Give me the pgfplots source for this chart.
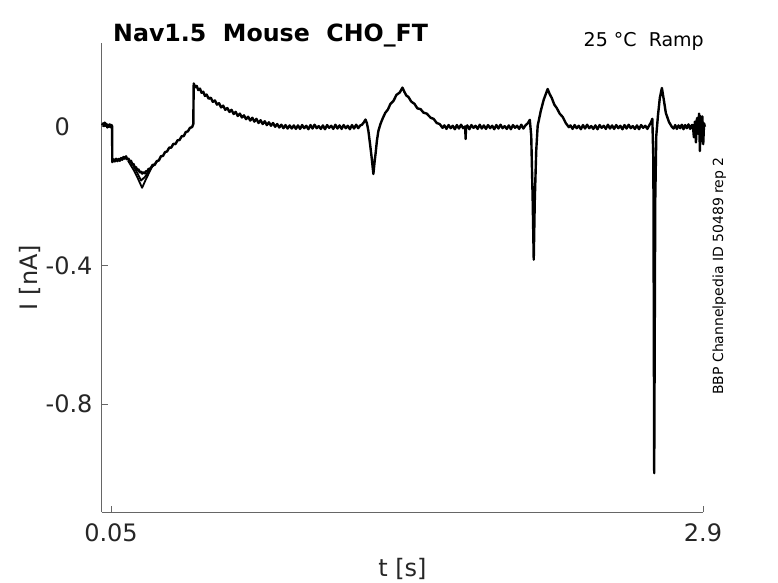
\documentclass[border=0pt]{standalone}
\usepackage{pgfplots}
\pgfplotsset{compat=1.18}
\usepackage{fontspec}
\setmainfont{DejaVu Sans}
\definecolor{axgray}{rgb}{0.40,0.40,0.40}
\definecolor{labgray}{rgb}{0.15,0.15,0.15}
\begin{document}
\begin{tikzpicture}[x=1bp,y=1bp]
\path[use as bounding box] (0,0) rectangle (778,-583);
\begin{axis}[
  at={(101.7bp,-512bp)}, anchor=south west,
  width=601.3bp, height=469bp, scale only axis,
  xmin=0.005, xmax=2.9, ymin=-1.111, ymax=0.2417,
  axis x line*=bottom, axis y line*=left,
  axis line style={axgray, line width=0.8bp},
  clip=false,
  xtick={0.05,2.9}, xticklabels={0.05,2.9},
  ytick={-0.8,-0.4,0}, yticklabels={-0.8,-0.4,{0\hspace*{22.7bp}}},
  tick align=inside, major tick length=6bp,
  tick style={axgray, line width=0.7bp},
  ticklabel style={font=\fontsize{24bp}{28bp}\selectfont, text=labgray, inner sep=0pt},
  xticklabel style={anchor=north, yshift=-11bp},
  yticklabel style={anchor=east, xshift=-9bp},
]
\addplot[black, line width=2.4bp, line join=round] coordinates {
(0.007,0.004)(0.012,0.010)(0.016,0.002)(0.020,0.012)(0.024,0.003)(0.028,0.008)
(0.032,-0.002)(0.036,0.006)(0.040,0.000)(0.044,0.007)(0.048,-0.001)(0.052,0.005)(0.055,0.002)
(0.056,-0.102)(0.062,-0.094)(0.068,-0.100)(0.074,-0.092)(0.080,-0.099)(0.086,-0.093)
(0.092,-0.098)(0.098,-0.090)(0.104,-0.095)(0.110,-0.087)(0.116,-0.092)(0.122,-0.085)
(0.128,-0.094)(0.134,-0.092)(0.140,-0.101)(0.146,-0.098)(0.152,-0.108)(0.158,-0.107)
(0.164,-0.117)(0.170,-0.116)(0.176,-0.125)(0.182,-0.123)(0.188,-0.131)(0.194,-0.129)
(0.200,-0.135)(0.206,-0.131)(0.212,-0.134)(0.218,-0.128)(0.224,-0.129)
(0.230,-0.122)(0.240,-0.120)(0.250,-0.110)(0.260,-0.110)(0.270,-0.099)(0.280,-0.097)
(0.290,-0.085)(0.300,-0.084)(0.310,-0.073)(0.320,-0.071)(0.330,-0.060)(0.340,-0.060)
(0.350,-0.049)(0.360,-0.050)(0.370,-0.039)(0.380,-0.038)(0.390,-0.027)(0.400,-0.027)
(0.410,-0.015)(0.420,-0.013)(0.430,-0.003)(0.440,-0.001)(0.446,0.008)
(0.448,0.125)
(0.455,0.114)(0.462,0.118)(0.470,0.106)(0.478,0.110)(0.486,0.098)(0.494,0.101)
(0.502,0.089)(0.510,0.093)(0.520,0.081)(0.530,0.084)(0.540,0.072)(0.550,0.076)
(0.560,0.064)(0.570,0.068)(0.580,0.056)(0.590,0.061)(0.600,0.049)(0.610,0.054)
(0.620,0.043)(0.630,0.049)(0.640,0.037)(0.650,0.043)(0.660,0.031)(0.670,0.038)
(0.680,0.027)(0.690,0.033)(0.700,0.022)(0.710,0.029)(0.720,0.018)(0.730,0.026)
(0.740,0.015)(0.750,0.023)(0.760,0.011)(0.770,0.019)(0.780,0.008)(0.790,0.016)
(0.800,0.005)(0.810,0.013)(0.820,0.003)(0.830,0.011)(0.840,0.000)(0.850,0.008)
(0.860,-0.002)(0.870,0.006)(0.880,-0.004)(0.890,0.005)(0.900,-0.005)(0.910,0.004)
(0.920,-0.005)(0.930,0.004)(0.940,-0.006)
(0.950,0.004)(0.960,-0.006)(0.970,0.005)(0.980,-0.004)(0.990,0.003)(1.000,-0.007)
(1.010,0.005)(1.020,-0.005)(1.030,0.006)(1.040,-0.004)(1.050,0.002)(1.060,-0.006)
(1.070,0.004)(1.080,-0.007)(1.090,0.005)(1.100,-0.003)(1.110,0.003)(1.120,-0.006)
(1.130,0.006)(1.140,-0.005)(1.150,0.004)(1.160,-0.006)(1.170,0.005)(1.180,-0.004)
(1.190,0.003)(1.200,-0.007)(1.210,0.005)(1.220,-0.005)(1.230,0.006)(1.240,-0.004)(1.250,0.004)
(1.258,0.006)(1.266,0.012)(1.275,0.021)(1.282,0.010)(1.289,-0.012)(1.297,-0.050)
(1.304,-0.085)(1.313,-0.136)(1.319,-0.100)(1.324,-0.075)(1.330,-0.040)(1.337,-0.012)
(1.347,0.008)(1.357,0.023)(1.370,0.040)(1.383,0.050)(1.395,0.066)(1.410,0.075)
(1.424,0.092)(1.440,0.099)(1.453,0.113)(1.462,0.101)(1.472,0.090)(1.482,0.086)
(1.495,0.073)(1.511,0.066)(1.525,0.053)(1.540,0.051)(1.554,0.041)(1.570,0.038)
(1.589,0.026)(1.603,0.023)(1.618,0.011)(1.632,0.008)(1.646,-0.003)
(1.655,0.004)(1.665,-0.006)(1.675,0.005)(1.685,-0.004)(1.695,0.003)(1.705,-0.007)
(1.715,0.005)(1.725,-0.005)(1.735,0.006)(1.745,-0.004)(1.755,0.001)(1.757,-0.035)
(1.759,-0.002)(1.765,0.004)(1.775,-0.007)(1.785,0.005)(1.795,-0.003)(1.805,0.003)
(1.815,-0.006)(1.825,0.006)(1.835,-0.005)(1.845,0.004)(1.855,-0.006)(1.865,0.005)
(1.875,-0.004)(1.885,0.003)(1.895,-0.007)(1.905,0.005)(1.915,-0.005)(1.925,0.006)
(1.935,-0.004)(1.945,0.002)(1.955,-0.006)(1.965,0.004)(1.975,-0.007)(1.985,0.005)
(1.995,-0.003)(2.005,0.003)(2.015,-0.006)(2.025,0.006)(2.035,-0.005)(2.045,0.004)
(2.056,0.010)(2.066,0.020)(2.073,-0.026)(2.080,-0.213)(2.085,-0.383)(2.090,-0.213)
(2.097,-0.069)(2.104,0.003)(2.119,0.046)(2.133,0.078)(2.152,0.109)(2.162,0.094)
(2.172,0.083)(2.184,0.064)(2.196,0.054)(2.210,0.038)(2.225,0.028)(2.240,0.010)(2.254,-0.001)
(2.262,0.004)(2.272,-0.006)(2.282,0.005)(2.292,-0.004)(2.302,0.003)(2.312,-0.007)
(2.322,0.005)(2.332,-0.005)(2.342,0.006)(2.352,-0.004)(2.362,0.002)(2.372,-0.006)
(2.382,0.004)(2.392,-0.007)(2.402,0.005)(2.412,-0.003)(2.422,0.003)(2.432,-0.006)
(2.442,0.006)(2.452,-0.005)(2.462,0.004)(2.472,-0.006)(2.482,0.005)(2.492,-0.004)
(2.502,0.003)(2.512,-0.007)(2.522,0.005)(2.532,-0.005)(2.542,0.006)(2.552,-0.004)
(2.562,0.002)(2.572,-0.006)(2.582,0.004)(2.592,-0.007)(2.602,0.005)(2.612,-0.003)
(2.622,0.003)(2.632,-0.006)(2.642,0.005)
(2.649,0.012)(2.656,0.023)(2.661,-0.098)(2.665,-0.999)(2.670,-0.213)(2.675,-0.026)
(2.683,0.032)(2.692,0.083)(2.702,0.112)(2.712,0.075)(2.721,0.040)(2.736,0.014)(2.750,0.000)
(2.758,-0.005)(2.766,0.005)(2.774,-0.006)(2.782,0.004)(2.790,-0.004)(2.798,0.006)
(2.806,-0.007)(2.814,0.005)(2.822,-0.004)(2.830,0.007)(2.838,-0.006)(2.846,0.005)
(2.851,0.005)(2.856,-0.030)(2.861,0.015)(2.866,-0.045)(2.871,0.025)(2.876,-0.020)
(2.881,0.038)(2.885,-0.070)(2.889,0.030)(2.893,-0.040)(2.897,0.030)(2.901,-0.050)
(2.905,0.010)(2.909,0.000)
};
\addplot[black, line width=1.8bp, line join=round] coordinates {
(0.132,-0.098)(0.161,-0.127)(0.180,-0.150)(0.1995,-0.176)(0.2188,-0.150)(0.2477,-0.115)(0.2766,-0.097)
};
\addplot[black, line width=1.8bp, line join=round] coordinates {
(0.1513,-0.106)(0.1754,-0.132)(0.1947,-0.155)(0.214,-0.144)(0.238,-0.121)(0.2622,-0.1065)
};
\end{axis}
\node[anchor=base west, font=\fontsize{23.7bp}{27bp}\selectfont\bfseries, inner sep=0pt] at (113,-41.7) {Nav1.5\ \ Mouse\ \ CHO\_FT};
\node[anchor=base east, font=\fontsize{19bp}{23bp}\selectfont, inner sep=0pt] at (704,-47) {25 °C\ \ Ramp};
\node[anchor=base, font=\fontsize{24bp}{28bp}\selectfont, text=labgray, inner sep=0pt] at (402.4,-576.7) {t [s]};
\node[anchor=base, rotate=90, font=\fontsize{24bp}{28bp}\selectfont, text=labgray, inner sep=0pt] at (37.3,-277.5) {I [nA]};
\node[anchor=base, rotate=90, font=\fontsize{14bp}{16bp}\selectfont, inner sep=0pt] at (723,-276) {BBP Channelpedia ID 50489 rep 2};
\end{tikzpicture}
\end{document}
